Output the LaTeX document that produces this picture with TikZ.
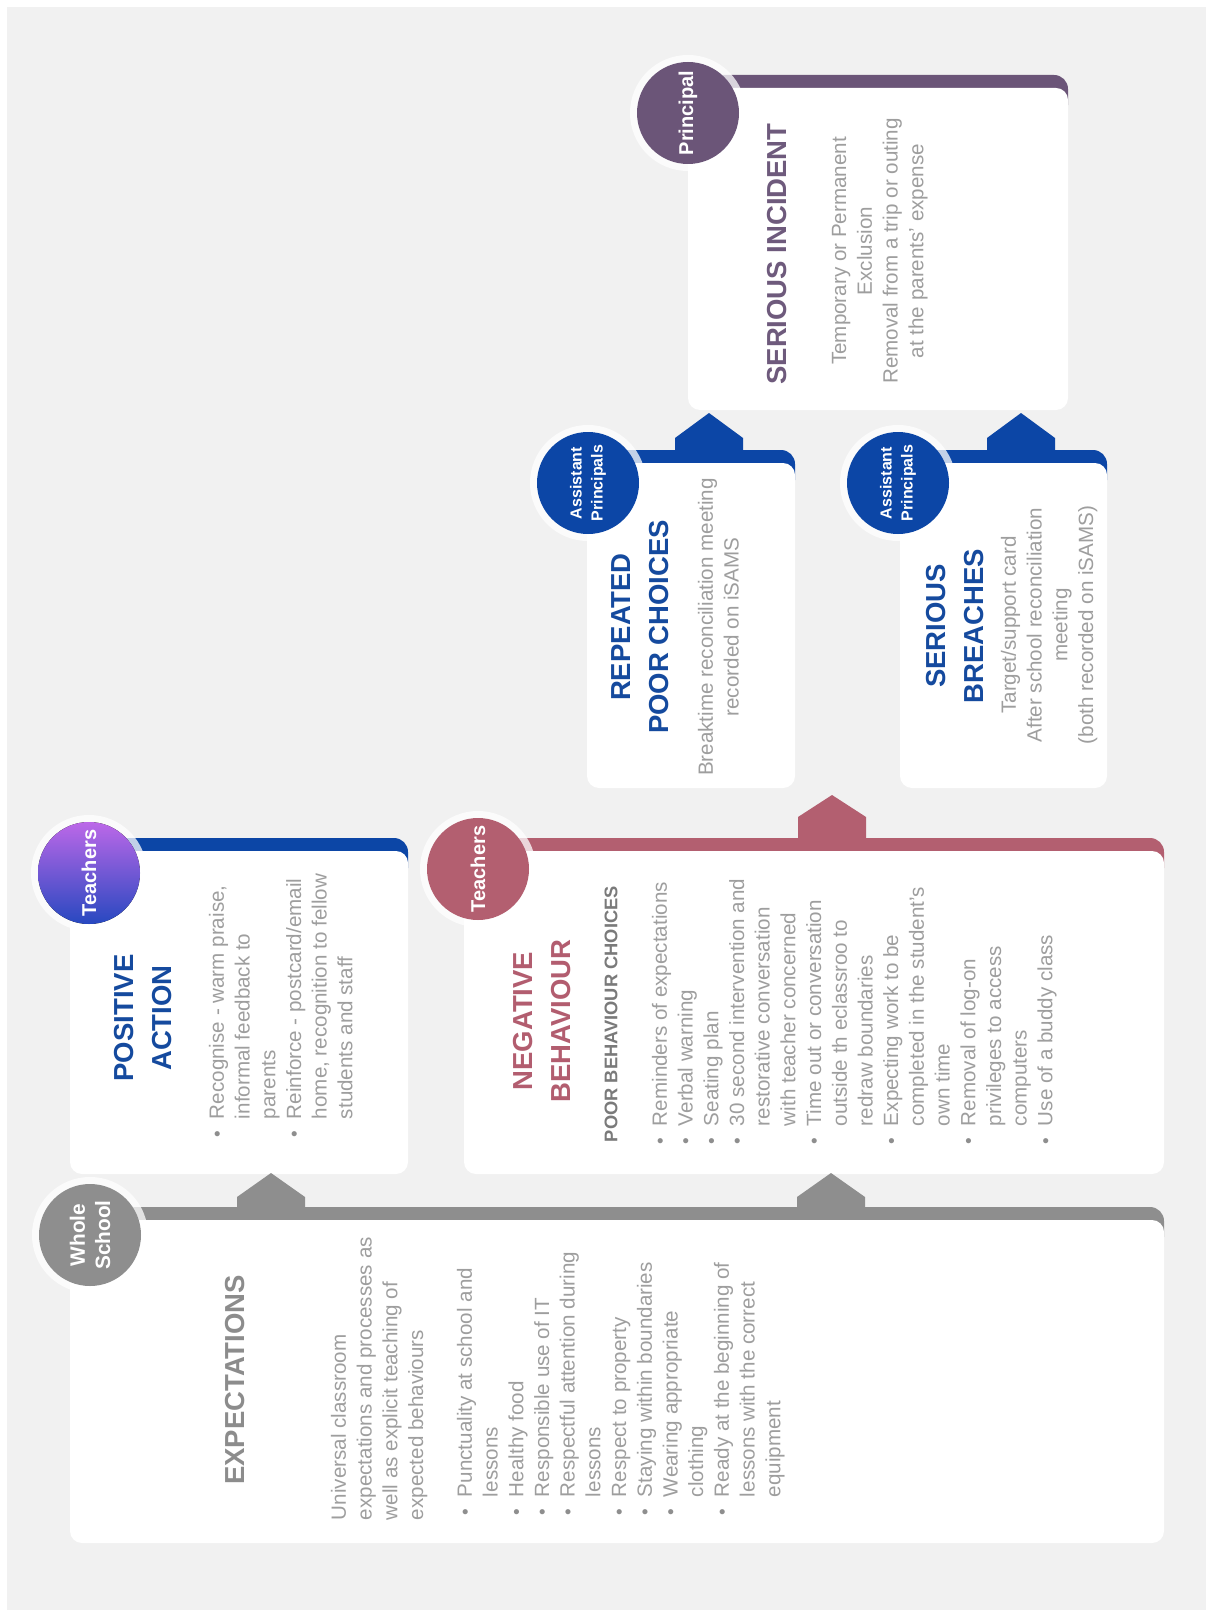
\documentclass[tikz,border=0pt]{standalone}
\usepackage{fontspec}
\setmainfont{Liberation Sans}
\definecolor{bg}{HTML}{F1F1F1}
\definecolor{gry}{HTML}{8E8E8E}
\definecolor{gtitle}{HTML}{8C8C8C}
\definecolor{txt}{HTML}{9E9E9E}
\definecolor{subt}{HTML}{7A7A7A}
\definecolor{blu}{HTML}{0C46A6}
\definecolor{blutitle}{HTML}{154A9E}
\definecolor{ros}{HTML}{B35F70}
\definecolor{rostitle}{HTML}{B25D6F}
\definecolor{pur}{HTML}{6B5578}
\definecolor{purtitle}{HTML}{6E5A7C}
\definecolor{tchtop}{HTML}{BC68E8}
\definecolor{tchbot}{HTML}{2748C0}

\newcommand\cardbox[5]{%
  \fill[#1, rounded corners=7pt] (#2,#3) rectangle (#4,#3+44);
  \fill[white, rounded corners=6pt] (#2,#3+13) rectangle (#4,#5);}
\newcommand\tabup[5]{%
  \fill[#1] (#2-34,#3+6) -- (#2-34,#3-#4) -- (#2,#3-#5) -- (#2+34,#3-#4) -- (#2+34,#3+6) -- cycle;}
\newcommand\badge[3]{%
  \fill[white, opacity=0.75] (#1,#2) circle (29pt);
  \fill[#3] (#1,#2) circle (25.5pt);}
\newcommand\bi{\makebox[11.5pt][l]{\hspace{2.1pt}\raisebox{0.2pt}{\fontsize{9.5}{9.5}\selectfont\textcolor{gry}{\textbullet}}}}
\newcommand\ci{\hspace*{11.5pt}}

\begin{document}
\begin{tikzpicture}[x=0.5pt,y=-0.5pt,
  lbl/.style={rotate=90, inner sep=0pt, outer sep=0pt},
  bodytxt/.style={lbl, text=txt, font=\fontsize{10.3}{12.85}\selectfont},
  ttl/.style={lbl, font=\bfseries\fontsize{13.75}{19}\selectfont, align=center},
  circtxt/.style={lbl, text=white, font=\bfseries\fontsize{10}{12}\selectfont, align=center}]
\useasboundingbox (0,0) rectangle (1206,1610);
\fill[white] (0,0) rectangle (1206,1610);
\fill[bg] (7,7) rectangle (1206,1610);

% ---------- cards ----------
\cardbox{gry}{70}{1207}{1164}{1543}
\cardbox{blu}{70}{838}{408}{1174}
\cardbox{ros}{464}{838}{1164}{1174}
\cardbox{blu}{587}{450}{795}{788}
\cardbox{blu}{900}{450}{1107}{788}
\cardbox{pur}{688}{75}{1068}{410}

% ---------- tabs ----------
\tabup{gry}{271}{1207}{10}{34}
\tabup{gry}{831}{1207}{10}{34}
\tabup{ros}{832}{838}{21}{43}
\tabup{blu}{709}{450}{12}{37}
\tabup{blu}{1021}{450}{12}{37}

% ---------- badges ----------
\badge{90}{1235}{gry}
\node[circtxt, font=\bfseries\fontsize{10.4}{12.6}\selectfont] (bWhole) at (90,1235) {Whole\\School};
\fill[white, opacity=0.75] (89,873) circle (29pt);
\fill[top color=tchtop, bottom color=tchbot] (89,873) circle (25.5pt);
\node[circtxt] (bTeachA) at (89,873) {Teachers};
\badge{478}{869}{ros}
\node[circtxt] (bTeachB) at (478,869) {Teachers};
\badge{588}{483}{blu}
\node[circtxt, font=\bfseries\fontsize{8}{10.5}\selectfont] (bAsstA) at (588,483) {Assistant\\Principals};
\badge{898}{483}{blu}
\node[circtxt, font=\bfseries\fontsize{8}{10.5}\selectfont] (bAsstB) at (898,483) {Assistant\\Principals};
\badge{688}{113}{pur}
\node[circtxt] (bPrin) at (688,113) {Principal};

% ---------- EXPECTATIONS ----------
\node[ttl, text=gtitle] (tExp) at (235,1380) {EXPECTATIONS};
\node[bodytxt, anchor=north west, align=left] (pExp) at (331,1520)
 {Universal classroom\\expectations and processes as\\well as explicit teaching of\\expected behaviours};
\node[bodytxt, anchor=north west, align=left] (lExp) at (457,1520)
 {\bi Punctuality at school and\\ \ci lessons\\ \bi Healthy food\\ \bi Responsible use of IT\\
  \bi Respectful attention during\\ \ci lessons\\ \bi Respect to property\\ \bi Staying within boundaries\\
  \bi Wearing appropriate\\ \ci clothing\\ \bi Ready at the beginning of\\ \ci lessons with the correct\\ \ci equipment};

% ---------- POSITIVE ACTION ----------
\node[ttl, text=blutitle] (tPos) at (143,1018) {POSITIVE\\ACTION};
\node[bodytxt, anchor=north west, align=left] (lPos) at (209,1142)
 {\bi Recognise - warm praise,\\ \ci informal feedback to\\ \ci parents\\
  \bi Reinforce - postcard/email\\ \ci home, recognition to fellow\\ \ci students and staff};

% ---------- NEGATIVE BEHAVIOUR ----------
\node[ttl, text=rostitle] (tNeg) at (542,1021) {NEGATIVE\\BEHAVIOUR};
\node[lbl, anchor=west, text=subt, font=\bfseries\fontsize{9.15}{11}\selectfont] (sNeg) at (611,1142) {POOR BEHAVIOUR CHOICES};
\node[bodytxt, anchor=north west, align=left] (lNeg) at (652,1149)
 {\bi Reminders of expectations\\ \bi Verbal warning\\ \bi Seating plan\\
  \bi 30 second intervention and\\ \ci restorative conversation\\ \ci with teacher concerned\\
  \bi Time out or conversation\\ \ci outside th eclassroo to\\ \ci redraw boundaries\\
  \bi Expecting work to be\\ \ci completed in the student's\\ \ci own time\\
  \bi Removal of log-on\\ \ci privileges to access\\ \ci computers\\
  \bi Use of a buddy class};

% ---------- REPEATED POOR CHOICES ----------
\node[ttl, text=blutitle] (tRep) at (640,627) {REPEATED\\POOR CHOICES};
\node[bodytxt, anchor=north, align=center] (pRep) at (698,627)
 {Breaktime reconciliation meeting\\recorded on iSAMS};

% ---------- SERIOUS BREACHES ----------
\node[ttl, text=blutitle] (tSB) at (955,626) {SERIOUS\\BREACHES};
\node[bodytxt, anchor=north, align=center] (pSB) at (1001,625)
 {Target/support card\\After school reconciliation\\meeting\\(both recorded on iSAMS)};

% ---------- SERIOUS INCIDENT ----------
\node[ttl, text=purtitle] (tSI) at (777,254) {SERIOUS INCIDENT};
\node[bodytxt, anchor=north, align=center] (pSI) at (832,251)
 {Temporary or Permanent\\Exclusion\\Removal from a trip or outing\\at the parents' expense};
\end{tikzpicture}
\end{document}
